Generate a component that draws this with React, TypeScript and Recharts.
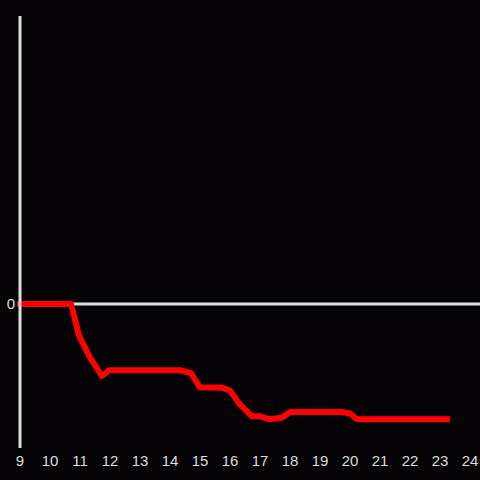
import { LineChart, Line, XAxis, YAxis, ReferenceLine } from "recharts";

// hour of day and the running value
const hours = [9, 10.7, 10.97, 11.3, 11.73, 11.97, 14.33, 14.7, 15, 15.7, 16, 16.3, 16.73, 17, 17.3, 17.73, 18, 19.73, 20, 20.23, 23.23];
const values = [0, 0, -22, -36, -50, -46, -46, -48, -58, -58, -60, -69, -78, -78, -80, -79, -75, -75, -76, -80, -80];
const hourTicks = [9, 10, 11, 12, 13, 14, 15, 16, 17, 18, 19, 20, 21, 22, 23, 24];

const data = hours.map((h, i) => ({ h, v: values[i] }));

const axisText = { fill: "#dddddd", fontSize: 15, fontFamily: "Liberation Sans, Arial, sans-serif" };

export default function App() {
  return (
    <div style={{ position: "fixed", left: 0, top: 0, width: 480, height: 480, background: "#050306" }}>
      <LineChart width={480} height={480} data={data} margin={{ top: 16, right: 0, bottom: 0, left: 0 }}>
        <XAxis
          dataKey="h"
          type="number"
          domain={[9, 24.333]}
          ticks={hourTicks}
          axisLine={false}
          tickLine={false}
          tick={axisText}
          tickMargin={5}
          tickSize={2}
          height={32}
          interval={0}
        />
        <YAxis
          domain={[-100, 200]}
          ticks={[0]}
          width={20}
          axisLine={{ stroke: "#dddddd", strokeWidth: 3 }}
          tickLine={false}
          tick={axisText}
          tickSize={2}
          tickMargin={3}
        />
        <ReferenceLine y={0} stroke="#dddddd" strokeWidth={3} />
        <Line
          dataKey="v"
          type="linear"
          stroke="#ff0000"
          strokeWidth={6}
          strokeLinejoin="round"
          strokeLinecap="square"
          dot={false}
          isAnimationActive={false}
        />
      </LineChart>
    </div>
  );
}
